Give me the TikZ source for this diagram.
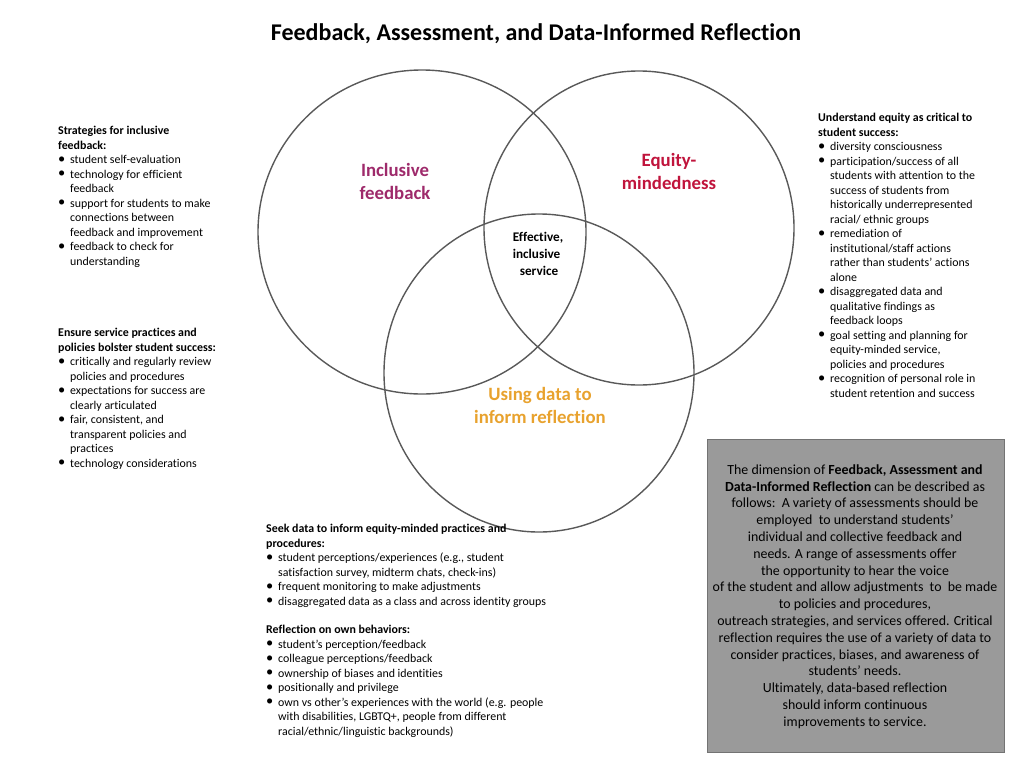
\documentclass[tikz,border=0pt]{standalone}
\usepackage{fontspec}
\setmainfont{Carlito}[Ligatures={NoCommon}]
\newcommand{\bl}{\makebox[12pt][l]{\raisebox{0.3pt}{\Large\textbullet}}}
\newcommand{\ci}{\hspace*{12pt}}
\definecolor{incl}{HTML}{9E2A6B}
\definecolor{equi}{HTML}{C0143C}
\definecolor{usedata}{HTML}{E8A22E}
\definecolor{boxgray}{HTML}{9A9A9A}
\tikzset{
  circ/.style={draw=black!65, line width=1.4pt},
  small/.style={font=\fontsize{11.9}{14.5}\selectfont, align=left, anchor=north west, inner sep=0pt},
  biglab/.style={font=\fontsize{18.8}{23}\selectfont\bfseries, align=center},
}
\begin{document}
\begin{tikzpicture}[x=1pt,y=-1pt]
\useasboundingbox (0,0) rectangle (1024,768);
\node[font=\fontsize{24}{28}\selectfont\bfseries] (title) at (536,34) {Feedback, Assessment, and Data-Informed Reflection};
\draw[circ] (422,232) ellipse (164 and 162);
\draw[circ] (639,228) ellipse (155 and 157);
\draw[circ] (539,373) ellipse (155 and 159);
\node[biglab,text=incl] (inc) at (395,181) {Inclusive\\feedback};
\node[biglab,text=equi] (eq) at (669,171) {Equity-\\mindedness};
\node[font=\fontsize{13.2}{17}\selectfont\bfseries,align=left] (eff) at (538,254) {Effective,\\inclusive\\\hspace*{7pt}service};
\node[biglab,text=usedata] (ud) at (540,405) {Using data to\\inform reflection};

\node[small] (l1) at (58,126) {\textbf{Strategies for inclusive}\\\textbf{feedback:}\\
\bl student self-evaluation\\\bl technology for efficient\\\ci feedback\\
\bl support for students to make\\\ci connections between\\\ci feedback and improvement\\
\bl feedback to check for\\\ci understanding};
\node[small] (l2) at (58,328) {\textbf{Ensure service practices and}\\\textbf{policies bolster student success:}\\
\bl critically and regularly review\\\ci policies and procedures\\
\bl expectations for success are\\\ci clearly articulated\\
\bl fair, consistent, and\\\ci transparent policies and\\\ci practices\\
\bl technology considerations};
\node[small] (r1) at (818,113) {\textbf{Understand equity as critical to}\\\textbf{student success:}\\
\bl diversity consciousness\\\bl participation/success of all\\\ci students with attention to the\\\ci success of students from\\\ci historically underrepresented\\\ci racial/ ethnic groups\\
\bl remediation of\\\ci institutional/staff actions\\\ci rather than students' actions\\\ci alone\\
\bl disaggregated data and\\\ci qualitative findings as\\\ci feedback loops\\
\bl goal setting and planning for\\\ci equity-minded service,\\\ci policies and procedures\\
\bl recognition of personal role in\\\ci student retention and success};
\node[small] (b1) at (266,524) {\textbf{Seek data to inform equity-minded practices and}\\\textbf{procedures:}\\
\bl student perceptions/experiences (e.g., student\\\ci satisfaction survey, midterm chats, check-ins)\\
\bl frequent monitoring to make adjustments\\
\bl disaggregated data as a class and across identity groups};
\node[small] (b2) at (266,625) {\textbf{Reflection on own behaviors:}\\
\bl student's perception/feedback\\\bl colleague perceptions/feedback\\\bl ownership of biases and identities\\\bl positionally and privilege\\
\bl own vs other's experiences with the world (e.g. people\\\ci with disabilities, LGBTQ+, people from different\\\ci racial/ethnic/linguistic backgrounds)};

\draw[fill=boxgray,draw=black!55,line width=0.8pt] (707,439) rectangle (1004,752);
\node[font=\fontsize{13.9}{16.8}\selectfont,align=center,anchor=north] (gb) at (855,461) {The dimension of \textbf{Feedback, Assessment and}\\
\textbf{Data-Informed Reflection} can be described as\\
follows:\ \ A variety of assessments should be\\
employed\ \ to understand students'\\
individual and collective feedback and\\
needs. A range of assessments offer\\
the opportunity to hear the voice\\
of the student and allow adjustments\ \ to\ \ be made\\
to policies and procedures,\\
outreach strategies, and services offered. Critical\\
reflection requires the use of a variety of data to\\
consider practices, biases, and awareness of\\
students' needs.\\
Ultimately, data-based reflection\\
should inform continuous\\
improvements to service.};
\end{tikzpicture}
\end{document}
